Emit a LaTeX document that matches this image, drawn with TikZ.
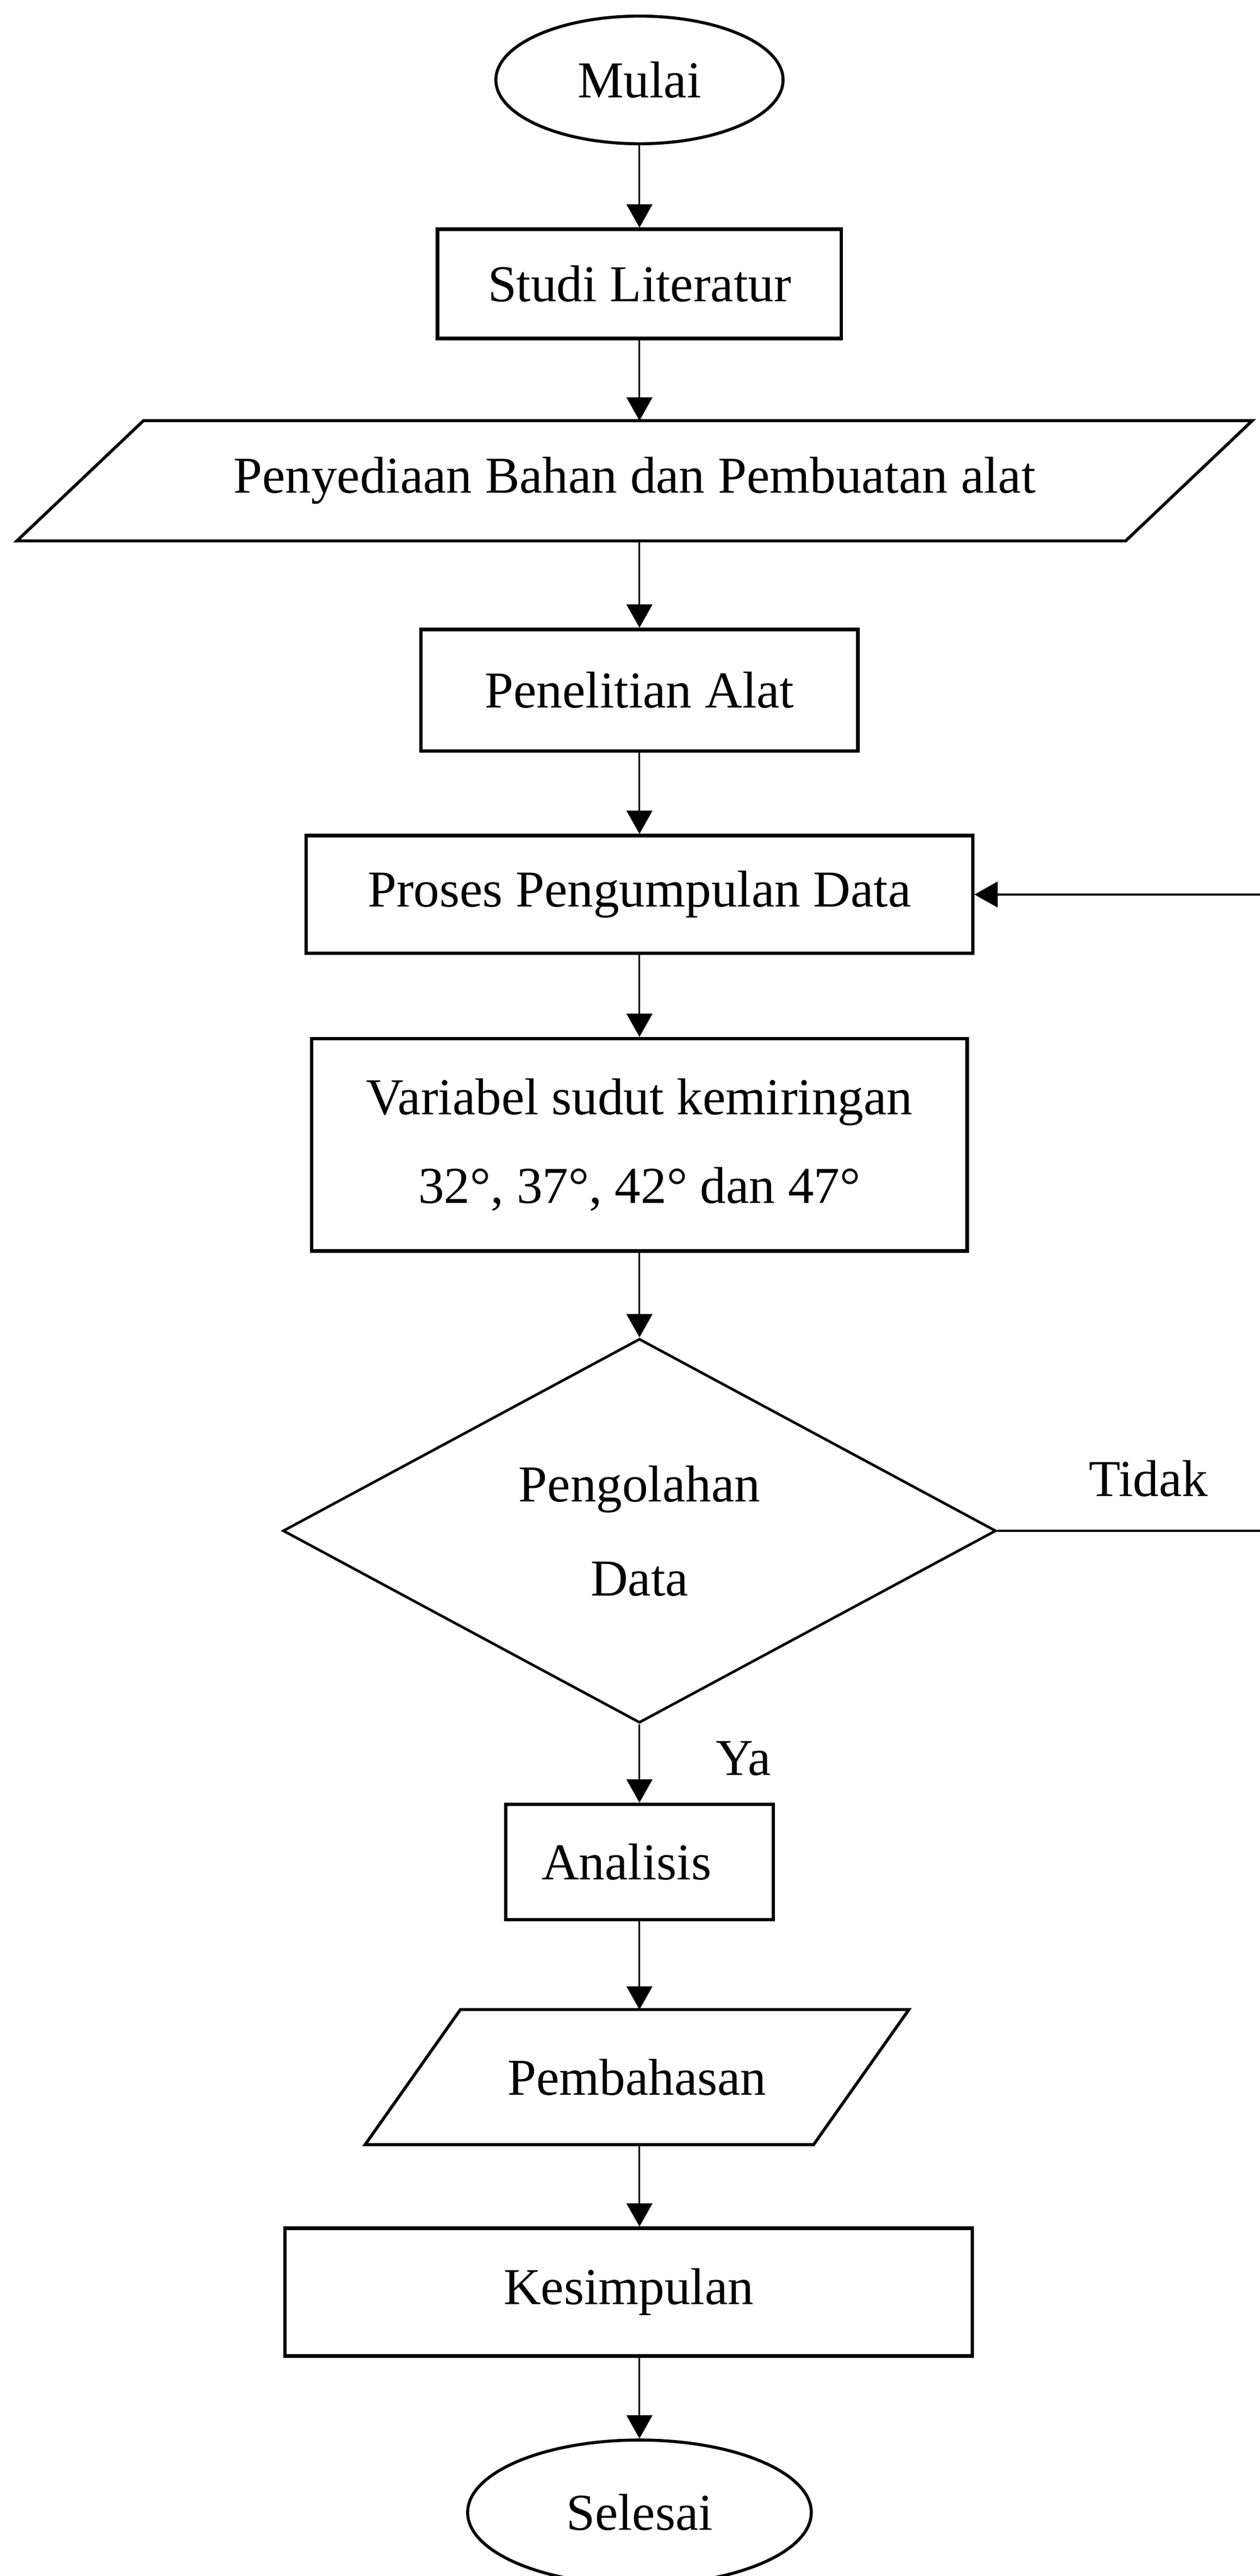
\documentclass[tikz,border=0pt]{standalone}
\usepackage{fontspec}
\setmainfont{Liberation Serif}
\usetikzlibrary{shapes.geometric,arrows.meta}

\begin{document}
\begin{tikzpicture}[font=\fontsize{12}{14.4}\selectfont,
	box/.style={draw,rectangle,line width=0.8pt,inner sep=0pt},
	terminal/.style={draw,ellipse,line width=0.7pt,inner sep=0pt},
	io/.style={rectangle,inner sep=0pt},
	iolines/.style={line width=0.7pt,line join=miter},
	decision/.style={draw,diamond,line width=0.6pt,inner sep=0pt,align=center},
	arr/.style={-{Triangle[length=0.19cm,width=0.21cm]},line width=0.4pt}]
					%\draw[help lines] (0,0) grid (10,-21);
					\useasboundingbox (0,0) rectangle (10.266,-20.988);
					%NODES
					\node[terminal,minimum width=2.34cm,minimum height=1.04cm] (mulai) at (5.21,-0.651) {Mulai};
					\node[box,minimum width=3.29cm,minimum height=0.89cm] (studi) at (5.21,-2.313) {Studi Literatur};
					\node[io,minimum width=9.02cm,minimum height=0.966cm] (bahan) at (5.17,-3.917) {Penyediaan Bahan dan Pembuatan alat};
					\node[box,minimum width=3.56cm,minimum height=0.99cm] (teliti) at (5.21,-5.623) {Penelitian Alat};
					\node[box,minimum width=5.43cm,minimum height=0.96cm] (proses) at (5.21,-7.288) {Proses Pengumpulan Data};
					\node[box,minimum width=5.34cm,minimum height=1.73cm,align=center] (variabel) at (5.21,-9.327) {Variabel sudut kemiringan\\[6.1pt]32°, 37°, 42° dan 47°};
					\node[decision,minimum width=5.81cm,minimum height=3.13cm] (olah) at (5.21,-12.472) {Pengolahan\\[7.4pt]Data};
					\node[box,minimum width=2.18cm,minimum height=0.94cm] (analisis) at (5.21,-15.171) {Analisis\kern6pt};
					\node[io,minimum width=3.64cm,minimum height=1.086cm] (bahas) at (5.19,-16.923) {Pembahasan};
					\node[box,minimum width=5.6cm,minimum height=1.04cm] (simpul) at (5.122,-18.675) {Kesimpulan};
					\node[terminal,minimum width=2.8cm,minimum height=1.18cm] (selesai) at (5.21,-20.47) {Selesai};
					%PARALLELOGRAMS
					\draw[iolines] ([xshift=-0.516cm]bahan.south west) -- ([xshift=-0.516cm]bahan.south east) -- ([xshift=0.516cm]bahan.north east) -- ([xshift=0.516cm]bahan.north west) -- cycle;
					\draw[iolines] ([xshift=-0.388cm]bahas.south west) -- ([xshift=-0.388cm]bahas.south east) -- ([xshift=0.388cm]bahas.north east) -- ([xshift=0.388cm]bahas.north west) -- cycle;
					%ARROWS
					\draw[arr] (mulai) -- (studi);
					\draw[arr] (studi) -- (studi.south |- bahan.north);
					\draw[arr] (bahan.south -| teliti) -- (teliti);
					\draw[arr] (teliti) -- (proses);
					\draw[arr] (proses) -- (variabel);
					\draw[arr] (variabel) -- (olah);
					\draw[arr] (olah) -- node[right=0.5cm,pos=0.44]{Ya} (analisis);
					\draw[arr] (analisis) -- (analisis.south |- bahas.north);
					\draw[arr] (bahas.south -| analisis) -- (analisis.south |- simpul.north);
					\draw[arr] (selesai.north |- simpul.south) -- (selesai);
					%BACK TO DATA COLLECTION
					\coordinate (tidakR) at (10.266,-12.472);
					\coordinate (tidakT) at (10.266,-7.288);
					\draw[line width=0.5pt] (olah.east) -- node[above=4.3pt,pos=0.575]{Tidak} (tidakR);
					\draw[arr] (tidakT) -- (proses.east);
\end{tikzpicture}
\end{document}
